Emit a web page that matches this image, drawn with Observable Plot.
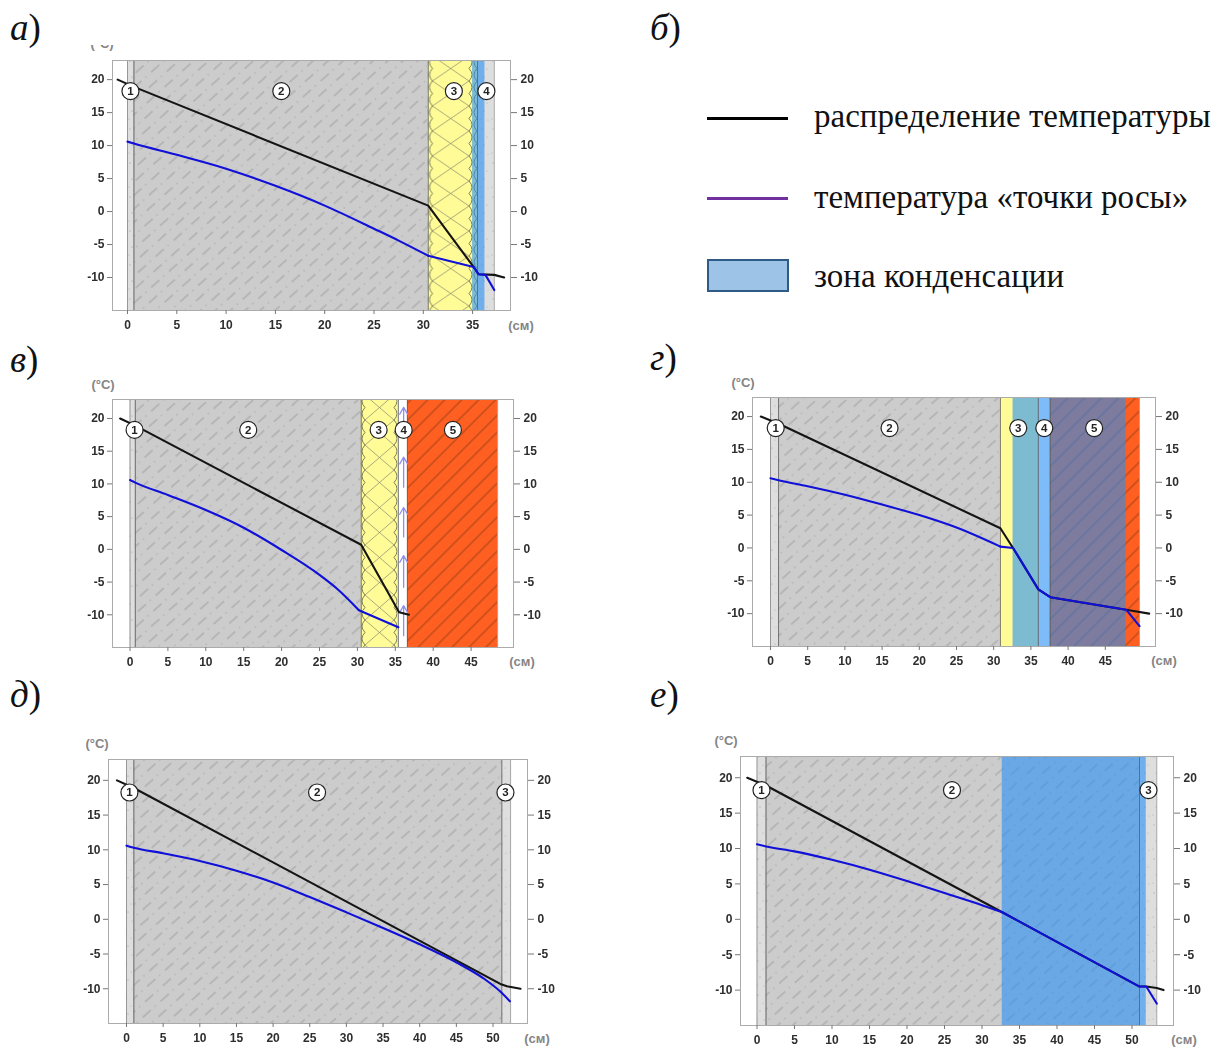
<!DOCTYPE html>
<html lang="ru"><head><meta charset="utf-8">
<style>
html,body{margin:0;padding:0;background:#fff}
#page{position:relative;width:1222px;height:1048px;overflow:hidden;background:#fff}
.plot{position:absolute}
.plot svg,svg.plot{filter:blur(.45px)}
.tag{position:absolute;font:37px/36px "Liberation Serif",serif;color:#111;white-space:nowrap}
.unit{position:absolute;font:bold 13px/14px "Liberation Sans",sans-serif;color:#858585;white-space:nowrap;transform:translateX(-50%)}
.clip{position:absolute;overflow:hidden}
.leg{position:absolute;font:33px/36px "Liberation Serif",serif;color:#111;white-space:nowrap}
.sw{position:absolute;box-sizing:border-box}
</style>
<script src="https://cdn.jsdelivr.net/npm/d3@7"></script>
<script src="https://cdn.jsdelivr.net/npm/@observablehq/plot@0.6"></script>
</head><body>
<svg width="0" height="0" style="position:absolute">
<defs>
<pattern id="concrete" patternUnits="userSpaceOnUse" width="24" height="20" patternTransform="rotate(-42)">
 <rect width="24" height="20" fill="#cccccc"/>
 <line x1="0" x2="11" y1="5" y2="5" stroke="#a0a0a0" stroke-width="1"/>
 <line x1="16" x2="17.5" y1="5" y2="5" stroke="#a8a8a8" stroke-width="1"/>
 <line x1="12" x2="23" y1="15" y2="15" stroke="#a0a0a0" stroke-width="1"/>
 <line x1="4" x2="5.5" y1="15" y2="15" stroke="#a8a8a8" stroke-width="1"/>
</pattern>
<pattern id="plaster" patternUnits="userSpaceOnUse" width="11" height="34">
 <rect width="11" height="34" fill="#dedede"/>
 <circle cx="3" cy="5" r=".6" fill="#9a9a9a"/><circle cx="8" cy="13" r=".5" fill="#a5a5a5"/>
 <circle cx="5" cy="21" r=".6" fill="#9a9a9a"/><circle cx="2" cy="29" r=".5" fill="#a5a5a5"/>
 <circle cx="9" cy="30" r=".5" fill="#aaa"/>
</pattern>
<pattern id="woolA" patternUnits="userSpaceOnUse" width="44.5" height="25" x="356.5">
 <rect width="44.5" height="25" fill="#fffc98"/>
 <path d="M4,0 L40.5,25 M40.5,0 L4,25" fill="none" stroke="#85856a" stroke-width=".7"/>
 <path d="M4,0 Q-2,6.2 4,12.5 Q-2,18.7 4,25 M40.5,0 Q46.5,6.2 40.5,12.5 Q46.5,18.7 40.5,25" fill="none" stroke="#6e6e50" stroke-width=".9"/>
</pattern>
<pattern id="woolB" patternUnits="userSpaceOnUse" width="37" height="25" x="289">
 <rect width="37" height="25" fill="#fffc98"/>
 <path d="M4,0 L33,25 M33,0 L4,25" fill="none" stroke="#85856a" stroke-width=".7"/>
 <path d="M4,0 Q-2,6.2 4,12.5 Q-2,18.7 4,25 M33,0 Q39,6.2 33,12.5 Q39,18.7 33,25" fill="none" stroke="#6e6e50" stroke-width=".9"/>
</pattern>
<pattern id="brick" patternUnits="userSpaceOnUse" width="12" height="12" patternTransform="rotate(-45)">
 <rect width="12" height="12" fill="#ff5f20"/>
 <line x1="0" x2="12" y1="3" y2="3" stroke="#8a3c18" stroke-width=".8"/>
</pattern>
</defs>
</svg>
<div id="page"></div>
<script>
// ---- chart values ----
const tempTicks = [-10, -5, 0, 5, 10, 15, 20];
const depthTicksShort = [0, 5, 10, 15, 20, 25, 30, 35];
const depthTicksMid = [0, 5, 10, 15, 20, 25, 30, 35, 40, 45];
const depthTicksLong = [0, 5, 10, 15, 20, 25, 30, 35, 40, 45, 50];

// [x, temperature]: temperature lines
const blackA = [[-1,20],[0.65,18.9],[30.5,0.9],[35.1,-8.4],[35.6,-9.5],[37.2,-9.6],[38.2,-10]];
const blackB = [[-1.3,20],[0.7,18.9],[30.5,0.7],[35.5,-9.6],[36.8,-10]];
const blackC = [[-1.3,20],[1.1,18.9],[30.9,3],[32.6,0],[36,-6.3],[37.6,-7.5],[47.8,-9.4],[50.9,-10]];
const blackD = [[-1.3,20],[1,18.9],[51,-9.3],[51.9,-9.65],[53.75,-10]];
const blackE = [[-1.3,20],[1.2,18.9],[32.7,1],[51,-9.5],[51.9,-9.5],[53.3,-9.7],[54.2,-10]];

// dew point: the curved stretch through the main wall
const dewA = [[0,10.6],[0.65,10.3],[5,8.6],[10,6.5],[15,3.9],[20,0.9],[25,-2.6],[27.5,-4.4],[30.5,-6.7]];
const dewB = [[0,10.6],[0.7,10.2],[5,8.3],[10,6],[15,3.3],[20,-0.1],[25,-3.9],[27.5,-6.2],[30.2,-9.3]];
const dewC = [[0,10.6],[1.1,10.3],[5,9.4],[10,8.1],[15,6.6],[20,5],[25,3.1],[30.9,0.2]];
const dewD = [[0,10.6],[1,10.3],[5,9.5],[10,8.4],[15,7],[20,5.3],[25,3.2],[30,1],[35,-1.25],[40,-3.6],[45,-6.2],[48.7,-8.5],[51,-10.4],[52.3,-11.8]];
const dewE = [[0,10.6],[1.2,10.3],[5,9.6],[10,8.4],[15,7],[20,5.4],[25,3.7],[30,2],[32.7,1]];
// dew point: the straight stretch through the outer layers
const dewTailA = [[30.5,-6.7],[35.1,-8.4],[35.6,-9.5],[36.3,-9.6],[37.2,-11.9]];
const dewTailB = [[30.2,-9.3],[35.4,-11.9]];
const dewTailC = [[30.9,0.2],[32.6,0],[36,-6.3],[37.6,-7.5],[47.8,-9.4],[49.6,-11.9]];
const dewTailD = [];
const dewTailE = [[32.7,1],[51,-9.5],[51.9,-9.5],[53.3,-11.9]];

// [material, from cm, to cm]
const layersA = [["plaster",0,0.65],["concrete",0.65,30.5],["woolA",30.5,35.5],["plaster",35.5,37.2]];
const layersB = [["plaster",0,0.7],["concrete",0.7,30.5],["woolB",30.5,35.4],["air",35.4,36.6],["brick",36.6,48.5]];
const layersC = [["plaster",0,1.08],["concrete",1.08,30.9],["plain",30.9,36],["air",36,37.6],["brick",37.6,49.6]];
const layersD = [["plaster",0,1],["concrete",1,51.2],["plaster",51.2,52.4]];
const layersE = [["plaster",0,1.2],["concrete",1.2,51],["plaster",51,53.3]];

// condensation zones [from cm, to cm]
const zoneA = [[35,36.25]];
const zoneB = [];
const zoneC = [[32.6,47.8]];
const zoneD = [];
const zoneE = [[32.7,51.9]];

// numbered callouts [number, cm]
const marksA = [["1",0.3],["2",15.6],["3",33.1],["4",36.4]];
const marksB = [["1",0.6],["2",15.6],["3",32.8],["4",36.1],["5",42.6]];
const marksC = [["1",0.7],["2",16],["3",33.3],["4",36.8],["5",43.5]];
const marksD = [["1",0.4],["2",26],["3",51.7]];
const marksE = [["1",0.6],["2",26],["3",52.2]];
const markLevel = 18.25;

// air-gap flow arrows in panel в [cm, from, to]
const arrowsB = [[36.1,17.1,21.7],[36.1,9.5,14.1],[36.1,1.9,6.4],[36.1,-5.8,-0.95],[36.1,-13.2,-8.6]];

// ---- styles and layout ----
const materialFill = {
  plaster:"url(#plaster)", concrete:"url(#concrete)", woolA:"url(#woolA)", woolB:"url(#woolB)",
  air:"#ffffff", brick:"url(#brick)", plain:"#fffc98"
};
const panels = [
  {black:blackA,dew:dewA,tail:dewTailA,layers:layersA,zone:zoneA,marks:marksA,ticks:depthTicksShort,fL:112,fR:510,fT:60,fB:310,x0:127,xS:9.86,yTop:22.9,yBot:-15},
  {black:blackB,dew:dewB,tail:dewTailB,layers:layersB,zone:zoneB,marks:marksB,ticks:depthTicksMid,arrows:arrowsB,fL:112,fR:513,fT:399,fB:647,x0:129.5,xS:7.58,yTop:22.9,yBot:-15},
  {black:blackC,dew:dewC,tail:dewTailC,layers:layersC,zone:zoneC,marks:marksC,ticks:depthTicksMid,fL:752,fR:1155,fT:397,fB:646,x0:770,xS:7.44,yTop:22.9,yBot:-15},
  {black:blackD,dew:dewD,tail:dewTailD,layers:layersD,zone:zoneD,marks:marksD,ticks:depthTicksLong,fL:108,fR:527,fT:759,fB:1023,x0:126,xS:7.33,yTop:23,yBot:-15},
  {black:blackE,dew:dewE,tail:dewTailE,layers:layersE,zone:zoneE,marks:marksE,ticks:depthTicksLong,fL:740,fR:1173,fT:756,fB:1025,x0:756.5,xS:7.5,yTop:23,yBot:-15}
];
const page = document.getElementById("page");

function drawPanel(p){
  const mL=40, mR=50, mT=4, mB=26;
  const w=p.fR-p.fL+mL+mR, h=p.fB-p.fT+mT+mB;
  const axisFont={fontSize:12,fontWeight:"bold",fontFamily:"'Liberation Sans',sans-serif"};
  const chart=Plot.plot({
    width:w,height:h,marginLeft:mL,marginRight:mR,marginTop:mT,marginBottom:mB,
    style:{background:"transparent",color:"#333",overflow:"visible"},
    x:{domain:[(p.fL-p.x0)/p.xS,(p.fR-p.x0)/p.xS]},
    y:{domain:[p.yBot,p.yTop]},
    marks:[
      Plot.rect(p.layers,{x1:d=>d[1],x2:d=>d[2],y1:p.yBot,y2:p.yTop,fill:d=>materialFill[d[0]]}),
      Plot.rect(p.zone,{x1:d=>d[0],x2:d=>d[1],y1:p.yBot,y2:p.yTop,fill:"#2790f5",fillOpacity:.6}),
      Plot.ruleX(p.layers.flatMap(d=>[d[1],d[2]]),{stroke:"#5f5f5f",strokeWidth:.7,strokeOpacity:.8}),
      p.arrows?Plot.arrow(p.arrows,{x1:d=>d[0],x2:d=>d[0],y1:d=>d[1],y2:d=>d[2],stroke:"#8f8ff0",strokeWidth:1.3,headLength:9}):null,
      Plot.frame({stroke:"#ababab",strokeWidth:1}),
      Plot.line(p.black,{x:d=>d[0],y:d=>d[1],stroke:"#141414",strokeWidth:2.1,strokeLinejoin:"round"}),
      Plot.line(p.dew,{x:d=>d[0],y:d=>d[1],curve:"monotone-x",stroke:"#1010d8",strokeWidth:2.1,strokeLinejoin:"round"}),
      Plot.line(p.tail,{x:d=>d[0],y:d=>d[1],stroke:"#1010d8",strokeWidth:2.1,strokeLinejoin:"round"}),
      Plot.dot(p.marks,{x:d=>d[1],y:markLevel,r:8.5,fill:"#fff",stroke:"#222",strokeWidth:1.2}),
      Plot.text(p.marks,{x:d=>d[1],y:markLevel,text:d=>d[0],fill:"#222",...axisFont,fontSize:11.5}),
      Plot.axisY(tempTicks,{anchor:"left",label:null,tickSize:5,tickPadding:3,stroke:"#777",fill:"#2e2e2e",...axisFont,tickFormat:d=>d}),
      Plot.axisY(tempTicks,{anchor:"right",label:null,tickSize:6,tickPadding:4,stroke:"#777",fill:"#2e2e2e",...axisFont,tickFormat:d=>d}),
      Plot.axisX(p.ticks,{anchor:"bottom",label:null,tickSize:4,tickPadding:6,stroke:"#777",fill:"#2e2e2e",...axisFont,tickFormat:d=>d})
    ]
  });
  chart.classList.add("plot");
  chart.style.left=(p.fL-mL)+"px";
  chart.style.top=(p.fT-mT)+"px";
  page.appendChild(chart);
}
panels.forEach(drawPanel);

// panel letters
const tags=[["а",10,10],["б",650,10],["в",10,342],["г",650,340],["д",10,677],["е",650,677]];
tags.forEach(([t,x,y])=>{
  const d=document.createElement("div");d.className="tag";d.style.left=x+"px";d.style.top=y+"px";
  d.innerHTML=`<i>${t}</i>)`;page.appendChild(d);
});
// axis units
const units=[["(см)",521,319],["(см)",522,655],["(см)",1164,654],["(см)",537,1032],["(см)",1184,1033],
             ["(°C)",103,378],["(°C)",743,376],["(°C)",97,737],["(°C)",726,734]];
units.forEach(([t,x,y])=>{
  const d=document.createElement("div");d.className="unit";d.style.left=x+"px";d.style.top=y+"px";d.textContent=t;page.appendChild(d);
});
// clipped unit label of panel а (cut at its top in the reference)
const clip=document.createElement("div");clip.className="clip";
clip.style.cssText="left:80px;top:45px;width:50px;height:6px";
clip.innerHTML='<div class="unit" style="left:22px;top:-8px">(°C)</div>';
page.appendChild(clip);

// legend
const legendLabels=["распределение температуры","температура «точки росы»","зона конденсации"];
[[814,98],[814,179],[814,258]].forEach(([x,y],i)=>{
  const d=document.createElement("div");d.className="leg";d.style.left=x+"px";d.style.top=y+"px";d.textContent=legendLabels[i];page.appendChild(d);
});
const sw=[["left:707px;top:117px;width:81px;height:3px;background:#000"],
          ["left:707px;top:197px;width:81px;height:3px;background:#7030a0"],
          ["left:707px;top:259px;width:82px;height:33px;background:#9dc3e6;border:2px solid #2f5a86"]];
sw.forEach(([s])=>{const d=document.createElement("div");d.className="sw";d.style.cssText=s;page.appendChild(d);});
</script>
</body></html>
